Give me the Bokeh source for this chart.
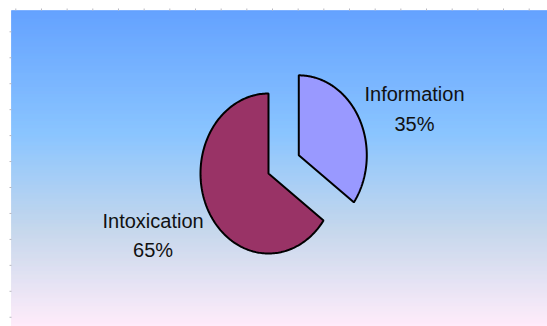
import numpy as np
from bokeh.plotting import figure
from bokeh.models import Range1d
from bokeh.embed import file_html
from bokeh.resources import INLINE
from bokeh.core.properties import value

# Pie data
categories = ["Information", "Intoxication"]
shares = [35, 65]
slice_colors = ["#9999FF", "#993366"]
explode = [0.5, 0.0]

# Background gradient stops ("Daybreak")
grad_stops = [0.0, 0.39, 0.70, 1.0]
grad_colors = ["#5E9EFF", "#85C2FF", "#C4D6EB", "#FFEBFA"]

W, H = 547, 326
# chart area (pixel-like coordinates, y grows downward)
AREA_L, AREA_T = 11, 10
CX, CY, RX, RY = 268, 173, 68, 80

p = figure(width=W, height=H, x_range=Range1d(0, W), y_range=Range1d(H, 0),
           output_backend="svg", toolbar_location=None, min_border=0)
p.axis.visible = False
p.grid.visible = False
p.outline_line_color = None
p.background_fill_color = "white"
p.border_fill_color = "white"


def hex_to_rgb(h):
    h = h.lstrip("#")
    return np.array([int(h[i:i + 2], 16) for i in (0, 2, 4)], dtype=float)


# vertical gradient built from thin strips
stop_rgb = np.array([hex_to_rgb(c) for c in grad_colors])
ys = np.arange(AREA_T, H)
fr = (ys + 0.5 - AREA_T) / (H - AREA_T)
strip_cols = []
for f in fr:
    rgb = [np.interp(f, grad_stops, stop_rgb[:, k]) for k in range(3)]
    strip_cols.append("#%02x%02x%02x" % tuple(int(round(v)) for v in rgb))
p.quad(left=AREA_L, right=W, top=ys, bottom=ys + 1, fill_color=strip_cols,
       line_color=strip_cols, line_width=0.6)

# faint ruler marks along the top and left edges
tx = np.arange(15.3, W, 25.67)
p.segment(x0=tx, y0=8, x1=tx, y1=10, line_color="#b8b8c0", line_width=1)
ty = np.arange(31.3, H, 25.95)
p.segment(x0=9, y0=ty, x1=11, y1=ty, line_color="#b8b8c0", line_width=1)

# pie slices on an elliptical outline, clockwise from 12 o'clock
total = float(sum(shares))
start = 0.0
xs_all, ys_all = [], []
for share, ex in zip(shares, explode):
    span = 2 * np.pi * share / total
    mid = start + span / 2
    ox = ex * RX * np.sin(mid)
    oy = -ex * RY * np.cos(mid)
    t = np.linspace(start, start + span, 200)
    cx, cy = CX + ox, CY + oy
    xs_all.append([cx] + list(cx + RX * np.sin(t)) + [cx])
    ys_all.append([cy] + list(cy - RY * np.cos(t)) + [cy])
    start += span

p.patches(xs=xs_all, ys=ys_all, fill_color=slice_colors, line_color="black",
          line_width=2)

# slice labels
label_x = [414, 152.6]
name_y = [93.3, 220]
pct_y = [123, 249.3]
pct_text = ["%d%%" % s for s in shares]
p.text(x=label_x, y=name_y, text=categories, text_align="center",
       text_baseline="alphabetic", text_font=value("Liberation Sans"),
       text_font_size="20px", text_color="#111111")
p.text(x=label_x, y=pct_y, text=pct_text, text_align="center",
       text_baseline="alphabetic", text_font=value("Liberation Sans"),
       text_font_size="20px", text_color="#111111")

open("out.html", "w").write(file_html(p, INLINE))
